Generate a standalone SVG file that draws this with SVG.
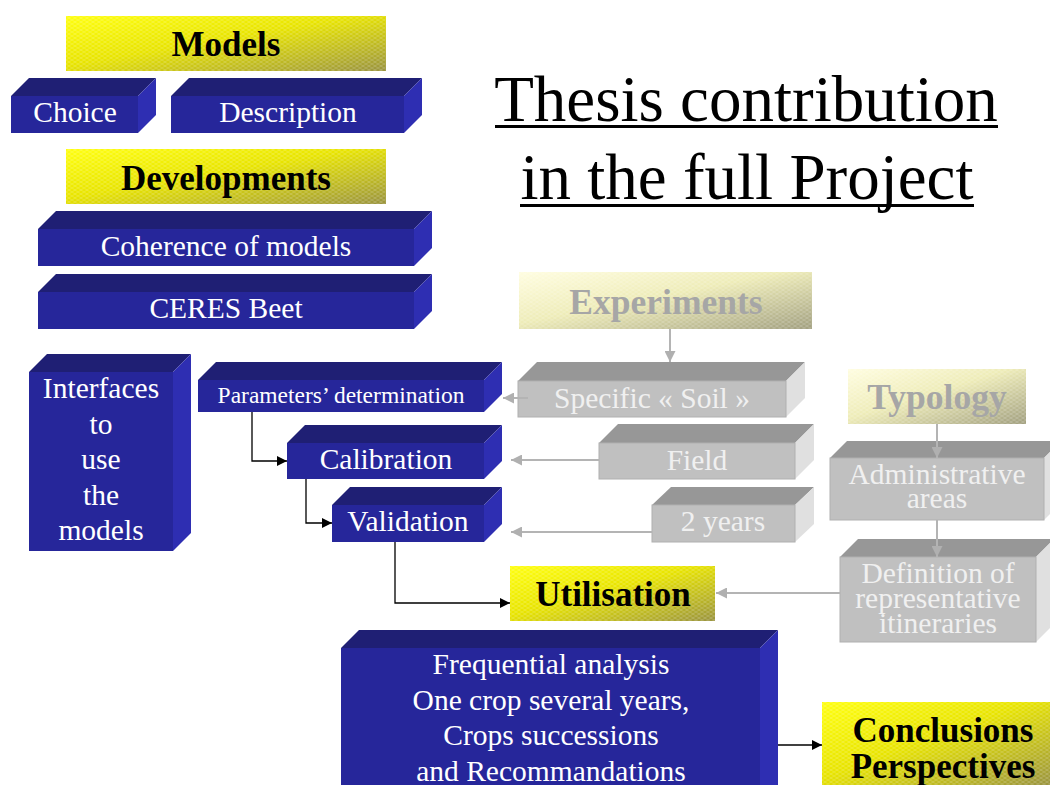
<svg xmlns="http://www.w3.org/2000/svg" width="1050" height="785" viewBox="0 0 1050 785">
<defs>
<linearGradient id="gY" x1="0" y1="0" x2="1" y2="1">
<stop offset="0" stop-color="#ffff10"/>
<stop offset="0.45" stop-color="#e8e400"/>
<stop offset="1" stop-color="#9a9440"/>
</linearGradient>
<linearGradient id="gF" x1="0" y1="0" x2="1" y2="1">
<stop offset="0" stop-color="#fffde0"/>
<stop offset="0.45" stop-color="#eeecb8"/>
<stop offset="1" stop-color="#a2a080"/>
</linearGradient>
<pattern id="mesh" width="6" height="4" patternUnits="userSpaceOnUse">
<path d="M0 4 L6 0 M0 0 L6 4" stroke="#ffffff" stroke-opacity="0.22" stroke-width="0.8" fill="none"/>
</pattern>
<marker id="ab" viewBox="0 0 10 10" refX="10" refY="5" markerWidth="10" markerHeight="10" markerUnits="userSpaceOnUse" orient="auto">
<path d="M0 0 L10 5 L0 10 Z" fill="#000"/>
</marker>
<marker id="ag" viewBox="0 0 10 10" refX="10" refY="5" markerWidth="11" markerHeight="11" markerUnits="userSpaceOnUse" orient="auto">
<path d="M0 0 L10 5 L0 10 Z" fill="#b0b0b0"/>
</marker>
</defs>
<style>
.bf{fill:#26269a}
.bt{fill:#1f1f74}
.bs{fill:#2e2eb2}
.gf{fill:#c0c0c0;stroke:#b0b0b0;stroke-width:1}
.gt{fill:#979797}
.gs{fill:#e0e0e0}
.wt{font-family:"Liberation Serif","Times New Roman",serif;fill:#ffffff;text-anchor:middle;font-size:29.5px}
.gx{font-family:"Liberation Serif","Times New Roman",serif;fill:#f0f0f0;text-anchor:middle;font-size:29.5px}
.yt{font-family:"Liberation Serif","Times New Roman",serif;font-weight:bold;fill:#000;text-anchor:middle;font-size:35px}
.ft{font-family:"Liberation Serif","Times New Roman",serif;font-weight:bold;fill:#a6a6a6;text-anchor:middle;font-size:35.5px}
.tt{font-family:"Liberation Serif","Times New Roman",serif;fill:#000;text-anchor:middle;font-size:65px}
.cb{stroke:#000;stroke-width:1.3;fill:none}
.cg{stroke:#b4b4b4;stroke-width:2;fill:none}
</style>

<g id="title">
<text class="tt" x="746" y="121">Thesis contribution</text>
<rect x="495" y="125" width="503" height="3" fill="#000"/>
<text class="tt" x="747" y="199">in the full Project</text>
<rect x="520" y="204" width="454" height="3" fill="#000"/>
</g>

<g id="models">
<rect x="66" y="16" width="320" height="55" fill="url(#gY)"/>
<rect x="66" y="16" width="320" height="55" fill="url(#mesh)"/>
<text class="yt" x="226" y="56">Models</text>
</g>

<g id="choice">
<polygon class="bt" points="11,96 29,78 156,78 138,96"/>
<polygon class="bs" points="138,96 156,78 156,115 138,133"/>
<rect class="bf" x="11" y="96" width="127" height="37"/>
<text class="wt" x="75" y="122">Choice</text>
</g>

<g id="description">
<polygon class="bt" points="171,96 189,78 422,78 404,96"/>
<polygon class="bs" points="404,96 422,78 422,115 404,133"/>
<rect class="bf" x="171" y="96" width="233" height="37"/>
<text class="wt" x="288" y="122">Description</text>
</g>

<g id="developments">
<rect x="66" y="149" width="320" height="55" fill="url(#gY)"/>
<rect x="66" y="149" width="320" height="55" fill="url(#mesh)"/>
<text class="yt" x="226" y="190">Developments</text>
</g>

<g id="coherence">
<polygon class="bt" points="38,229 56,211 432,211 414,229"/>
<polygon class="bs" points="414,229 432,211 432,248 414,266"/>
<rect class="bf" x="38" y="229" width="376" height="37"/>
<text class="wt" x="226" y="256">Coherence of models</text>
</g>

<g id="ceres">
<polygon class="bt" points="38,292 56,274 432,274 414,292"/>
<polygon class="bs" points="414,292 432,274 432,311 414,329"/>
<rect class="bf" x="38" y="292" width="376" height="37"/>
<text class="wt" x="226" y="318">CERES Beet</text>
</g>

<g id="interfaces">
<polygon class="bt" points="29,372 47,354 191,354 173,372"/>
<polygon class="bs" points="173,372 191,354 191,533 173,551"/>
<rect class="bf" x="29" y="372" width="144" height="179"/>
<text class="wt"><tspan x="101" y="398">Interfaces</tspan><tspan x="101" y="434">to</tspan><tspan x="101" y="469">use</tspan><tspan x="101" y="505">the</tspan><tspan x="101" y="540">models</tspan></text>
</g>

<g id="parameters">
<polygon class="bt" points="198,380 216,362 502,362 484,380"/>
<polygon class="bs" points="484,380 502,362 502,394 484,412"/>
<rect class="bf" x="198" y="380" width="286" height="32"/>
<text class="wt" x="341" y="403" style="font-size:23.5px">Parameters’ determination</text>
</g>

<g id="calibration">
<polygon class="bt" points="287,443 305,425 502,425 484,443"/>
<polygon class="bs" points="484,443 502,425 502,461 484,479"/>
<rect class="bf" x="287" y="443" width="197" height="36"/>
<text class="wt" x="386" y="469">Calibration</text>
</g>

<g id="validation">
<polygon class="bt" points="332,505 350,487 502,487 484,505"/>
<polygon class="bs" points="484,505 502,487 502,524 484,542"/>
<rect class="bf" x="332" y="505" width="152" height="37"/>
<text class="wt" x="408" y="531">Validation</text>
</g>

<g id="experiments">
<rect x="519" y="272" width="293" height="57" fill="url(#gF)"/>
<rect x="519" y="272" width="293" height="57" fill="url(#mesh)"/>
<text class="ft" x="666" y="314">Experiments</text>
</g>

<g id="soil">
<polygon class="gt" points="518,381 537,362 805,362 786,381"/>
<polygon class="gs" points="786,381 805,362 805,398 786,417"/>
<rect class="gf" x="518" y="381" width="268" height="36"/>
<text class="gx" x="652" y="408">Specific « Soil »</text>
</g>

<g id="field">
<polygon class="gt" points="599,443 618,424 814,424 795,443"/>
<polygon class="gs" points="795,443 814,424 814,460 795,479"/>
<rect class="gf" x="599" y="443" width="196" height="36"/>
<text class="gx" x="697" y="470">Field</text>
</g>

<g id="years">
<polygon class="gt" points="652,505 671,487 814,487 795,505"/>
<polygon class="gs" points="795,505 814,487 814,524 795,542"/>
<rect class="gf" x="652" y="505" width="143" height="37"/>
<text class="gx" x="723" y="531">2 years</text>
</g>

<g id="typology">
<rect x="848" y="369" width="178" height="55" fill="url(#gF)"/>
<rect x="848" y="369" width="178" height="55" fill="url(#mesh)"/>
<text class="ft" x="937" y="409">Typology</text>
</g>

<g id="admin">
<polygon class="gt" points="830,458 847,441 1061,441 1044,458"/>
<polygon class="gs" points="1044,458 1061,441 1061,503 1044,520"/>
<rect class="gf" x="830" y="458" width="214" height="62"/>
<text class="gx"><tspan x="937" y="484">Administrative</tspan><tspan x="937" y="508">areas</tspan></text>
</g>

<g id="definition">
<polygon class="gt" points="840,557 858,539 1054,539 1036,557"/>
<polygon class="gs" points="1036,557 1054,539 1054,624 1036,642"/>
<rect class="gf" x="840" y="557" width="196" height="85"/>
<text class="gx"><tspan x="938" y="583">Definition of</tspan><tspan x="938" y="608">representative</tspan><tspan x="938" y="633">itineraries</tspan></text>
</g>

<g id="utilisation">
<rect x="510" y="566" width="205" height="55" fill="url(#gY)"/>
<rect x="510" y="566" width="205" height="55" fill="url(#mesh)"/>
<text class="yt" x="613" y="606">Utilisation</text>
</g>

<g id="frequential">
<polygon class="bt" points="341,648 359,630 778,630 760,648"/>
<polygon class="bs" points="760,648 778,630 778,785 760,785"/>
<rect class="bf" x="341" y="648" width="419" height="137"/>
<text class="wt"><tspan x="551" y="674">Frequential analysis</tspan><tspan x="551" y="710">One crop several years,</tspan><tspan x="551" y="745">Crops successions</tspan><tspan x="551" y="781">and Recommandations</tspan></text>
</g>

<g id="conclusions">
<rect x="822" y="702" width="228" height="83" fill="url(#gY)"/>
<rect x="822" y="702" width="228" height="83" fill="url(#mesh)"/>
<text class="yt"><tspan x="943" y="742">Conclusions</tspan><tspan x="943" y="778">Perspectives</tspan></text>
</g>

<g id="connectors">
<path class="cb" d="M252 412 V461 H287" marker-end="url(#ab)"/>
<path class="cb" d="M306 479 V523 H332" marker-end="url(#ab)"/>
<path class="cb" d="M395 542 V603 H510" marker-end="url(#ab)"/>
<path class="cb" d="M778 745 H822" marker-end="url(#ab)"/>
<path class="cg" d="M670 329 V362" marker-end="url(#ag)"/>
<path class="cg" d="M528 398 H503" marker-end="url(#ag)"/>
<path class="cg" d="M599 460 H511" marker-end="url(#ag)"/>
<path class="cg" d="M652 532 H511" marker-end="url(#ag)"/>
<path class="cg" d="M937 424 V458" marker-end="url(#ag)"/>
<path class="cg" d="M937 520 V557" marker-end="url(#ag)"/>
<path class="cg" d="M840 593 H716" marker-end="url(#ag)"/>
</g>
</svg>
